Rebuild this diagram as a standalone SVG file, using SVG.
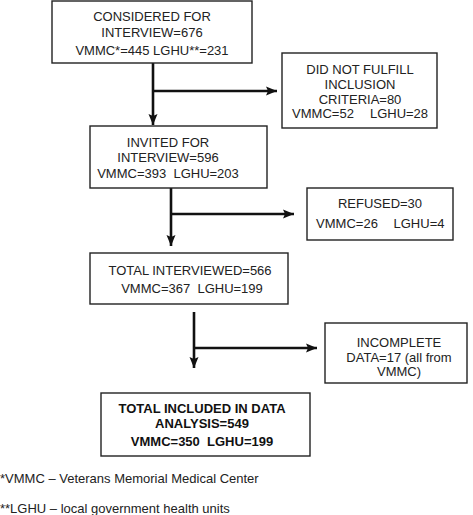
<svg xmlns="http://www.w3.org/2000/svg" width="473" height="515" viewBox="0 0 473 515">
<style>
.box{fill:#fff;stroke:#222;stroke-width:1.4}
.t{font-family:"Liberation Sans",Arial,sans-serif;font-size:13px;fill:#222;text-anchor:middle}
.b{font-family:"Liberation Sans",Arial,sans-serif;font-size:13px;font-weight:bold;fill:#111;text-anchor:middle}
.f{font-family:"Liberation Sans",Arial,sans-serif;font-size:13px;fill:#222}
.c{fill:none;stroke:#111;stroke-width:2.6}
</style>
<defs>
<marker id="ah" markerUnits="userSpaceOnUse" markerWidth="12" markerHeight="10" refX="11" refY="5" orient="auto">
<path d="M0,0.5 L11,5 L0,9.5 L2,5 Z" fill="#111"/>
</marker>
</defs>
<g id="connectors">
<path class="c" d="M153,63 V125" marker-end="url(#ah)"/>
<path class="c" d="M153,91 H277" marker-end="url(#ah)"/>
<path class="c" d="M171,188 V246" marker-end="url(#ah)"/>
<path class="c" d="M171,214 H294" marker-end="url(#ah)"/>
<path class="c" d="M194,312 V368" marker-end="url(#ah)"/>
<path class="c" d="M194,348 H317" marker-end="url(#ah)"/>
</g>
<g id="considered">
<rect class="box" x="52" y="1" width="200" height="62"/>
<text class="t" x="152" y="20.5">CONSIDERED FOR</text>
<text class="t" x="152" y="36.5">INTERVIEW=676</text>
<text class="t" x="152" y="54.5">VMMC*=445 LGHU**=231</text>
</g>
<g id="notfulfill">
<rect class="box" x="282" y="53" width="155" height="75"/>
<text class="t" x="360" y="73.5">DID NOT FULFILL</text>
<text class="t" x="360" y="88.5">INCLUSION</text>
<text class="t" x="360" y="103.5">CRITERIA=80</text>
<text class="t" x="323" y="117.5">VMMC=52</text>
<text class="t" x="399" y="117.5">LGHU=28</text>
</g>
<g id="invited">
<rect class="box" x="90" y="126" width="177" height="62"/>
<text class="t" x="168" y="146.5">INVITED FOR</text>
<text class="t" x="168" y="161.5">INTERVIEW=596</text>
<text class="t" x="168" y="177.5" style="white-space:pre">VMMC=393  LGHU=203</text>
</g>
<g id="refused">
<rect class="box" x="307" y="188" width="146" height="52"/>
<text class="t" x="380" y="207.5">REFUSED=30</text>
<text class="t" x="347" y="227.5">VMMC=26</text>
<text class="t" x="419" y="227.5">LGHU=4</text>
</g>
<g id="interviewed">
<rect class="box" x="90" y="253" width="198" height="51"/>
<text class="t" x="190" y="274.5">TOTAL INTERVIEWED=566</text>
<text class="t" x="192" y="292.5" style="white-space:pre">VMMC=367  LGHU=199</text>
</g>
<g id="incomplete">
<rect class="box" x="325" y="323" width="142" height="60"/>
<text class="t" x="399" y="346.5">INCOMPLETE</text>
<text class="t" x="399" y="361.5">DATA=17 (all from</text>
<text class="t" x="399" y="375.5">VMMC)</text>
</g>
<g id="included">
<rect class="box" x="101" y="393" width="209" height="63"/>
<text class="b" x="202" y="412.5">TOTAL INCLUDED IN DATA</text>
<text class="b" x="202" y="427.5">ANALYSIS=549</text>
<text class="b" x="202" y="445.5" style="white-space:pre">VMMC=350  LGHU=199</text>
</g>
<g id="footnotes">
<text class="f" x="0" y="482.5">*VMMC – Veterans Memorial Medical Center</text>
<text class="f" x="0" y="512.5">**LGHU – local government health units</text>
</g>
</svg>
